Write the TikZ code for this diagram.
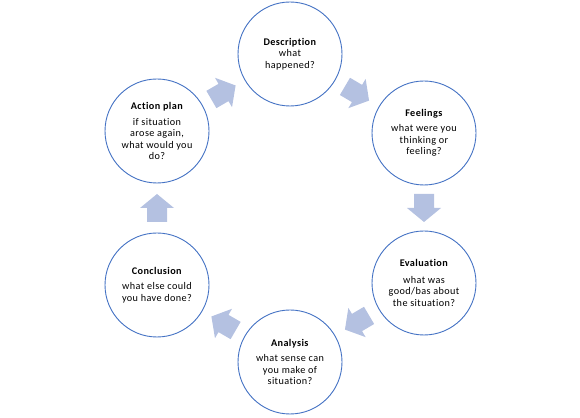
\documentclass[tikz,border=0pt]{standalone}
\usepackage{fontspec}
\setmainfont{Carlito}[LetterSpace=4, Ligatures={NoCommon}]
\usetikzlibrary{calc}
\definecolor{ringblue}{HTML}{4472C4}
\definecolor{arrowfill}{HTML}{B4C1E1}
\tikzset{
  stage/.style={circle, draw=ringblue, line width=0.9pt, fill=white,
    minimum size=104pt, inner sep=0pt, align=center,
    font=\fontsize{10.2}{11.5}\selectfont},
  blockarrow/.pic={\fill[arrowfill] (-14,-10) -- (0,-10) -- (0,-17) -- (14,0)
    -- (0,17) -- (0,10) -- (-14,10) -- cycle;}
}
\newcommand{\blockarr}[2]{\path let \p1=($(#2)-(#1)$), \n1={atan2(\y1,\x1)} in
  ($(#1)!0.5!(#2)$) pic[rotate=\n1] {blockarrow};}
\begin{document}
\begin{tikzpicture}[x=1pt,y=1pt]
\useasboundingbox (0,0) rectangle (580,417);
\node[stage] (desc) at (290,363) {\textbf{Description}\\ what\\ happened?};
\node[stage] (feel) at (424,284) {\textbf{Feelings}\\[4pt] what were you\\ thinking or\\ feeling?};
\node[stage] (eval) at (424,134) {\textbf{Evaluation}\\[5pt] what was\\ good/bas about\\ the situation?};
\node[stage] (anal) at (290,55) {\textbf{Analysis}\\[4pt] what sense can\\ you make of\\ situation?};
\node[stage] (conc) at (157,132) {\textbf{Conclusion}\\[4pt] what else could\\ you have done?};
\node[stage] (act) at (157,286) {\textbf{Action plan}\\[4pt] if situation\\ arose again,\\ what would you\\ do?};
\blockarr{desc}{feel}
\blockarr{feel}{eval}
\blockarr{eval}{anal}
\blockarr{anal}{conc}
\blockarr{conc}{act}
\blockarr{act}{desc}
\end{tikzpicture}
\end{document}
